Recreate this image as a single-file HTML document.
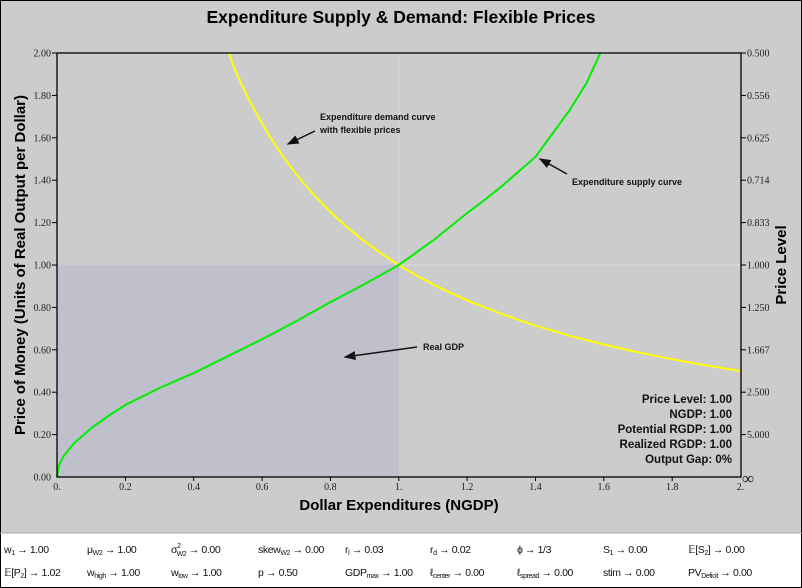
<!DOCTYPE html>
<html><head><meta charset="utf-8"><style>
body{margin:0;width:802px;height:588px;overflow:hidden;background:#fff}
svg{display:block}
.t{font-family:"Liberation Serif",serif;font-size:10px;fill:#222}
.b{font-family:"Liberation Sans",sans-serif;font-weight:bold}
.p{font-family:"Liberation Sans",sans-serif;font-size:10.5px;fill:#111;letter-spacing:-0.4px}
</style></head><body>
<svg width="802" height="588" viewBox="0 0 802 588">
<defs><marker id="ah" markerWidth="8" markerHeight="6" refX="7" refY="3" orient="auto"><path d="M0,0 L8,3 L0,6 Z" fill="#111"/></marker></defs>
<rect x="0" y="0" width="802" height="588" fill="#fff"/>
<rect x="1" y="1" width="800" height="532" fill="#cccccc"/>
<rect x="0.5" y="0.5" width="801" height="587" fill="none" stroke="#000"/>
<line x1="0" y1="533" x2="802" y2="533" stroke="#aaa"/>
<text x="401" y="23" text-anchor="middle" class="b" font-size="17.5">Expenditure Supply &amp; Demand: Flexible Prices</text>
<rect x="57" y="265" width="342" height="212" fill="#c0c0cc"/>
<line x1="399" y1="53" x2="399" y2="265" stroke="#dcdcdc" stroke-width="1"/>
<line x1="399" y1="265" x2="741" y2="265" stroke="#dcdcdc" stroke-width="1"/>
<polyline fill="none" stroke="#ffff00" stroke-width="2" stroke-linejoin="round" points="228.9,53 234.7,69.3 245,91.5 251.8,105.1 262.1,123.7 268.9,135.1 279.1,150.8 286,160.6 296.2,174.1 303.1,182.6 313.3,194.3 330.4,212 347.5,227.6 364.6,241.4 381.7,253.8 398.8,265 415.8,275.1 432.9,284.3 450,292.7 467.1,300.3 501.3,313.9 535.5,325.6 569.6,335.7 603.8,344.5 638,352.3 672.2,359.2 706.3,365.4 740.5,371"/>
<polyline fill="none" stroke="#00ee00" stroke-width="2" stroke-linejoin="round" points="57,477 58.7,466.4 60.4,462.2 63.8,455.8 67.3,451.6 74.1,443.1 91.2,428.2 108.3,416 125.4,404.9 159.5,388 193.7,373.1 227.9,356.2 262.1,339.2 296.2,321.2 330.4,302.1 364.6,284.1 398.8,265 432.9,240.6 467.1,213.1 484.2,200.3 501.3,186.6 518.4,171.7 535.5,156.9 552.5,133.6 569.6,110.2 586.7,82.7 600.4,53"/>
<rect x="57" y="53" width="684" height="424" fill="none" stroke="#000" stroke-width="1.3"/>
<g stroke="#000" stroke-width="1">
<line x1="57" y1="53" x2="52" y2="53"/><line x1="57" y1="95.4" x2="52" y2="95.4"/><line x1="57" y1="137.8" x2="52" y2="137.8"/><line x1="57" y1="180.2" x2="52" y2="180.2"/><line x1="57" y1="222.6" x2="52" y2="222.6"/><line x1="57" y1="265" x2="52" y2="265"/><line x1="57" y1="307.4" x2="52" y2="307.4"/><line x1="57" y1="349.8" x2="52" y2="349.8"/><line x1="57" y1="392.2" x2="52" y2="392.2"/><line x1="57" y1="434.6" x2="52" y2="434.6"/>
<line x1="741" y1="53" x2="746" y2="53"/><line x1="741" y1="95.4" x2="746" y2="95.4"/><line x1="741" y1="137.8" x2="746" y2="137.8"/><line x1="741" y1="180.2" x2="746" y2="180.2"/><line x1="741" y1="222.6" x2="746" y2="222.6"/><line x1="741" y1="265" x2="746" y2="265"/><line x1="741" y1="307.4" x2="746" y2="307.4"/><line x1="741" y1="349.8" x2="746" y2="349.8"/><line x1="741" y1="392.2" x2="746" y2="392.2"/><line x1="741" y1="434.6" x2="746" y2="434.6"/>
<line x1="125.4" y1="477" x2="125.4" y2="481"/><line x1="193.7" y1="477" x2="193.7" y2="481"/><line x1="262.1" y1="477" x2="262.1" y2="481"/><line x1="330.4" y1="477" x2="330.4" y2="481"/><line x1="398.8" y1="477" x2="398.8" y2="481"/><line x1="467.1" y1="477" x2="467.1" y2="481"/><line x1="535.5" y1="477" x2="535.5" y2="481"/><line x1="603.8" y1="477" x2="603.8" y2="481"/><line x1="672.2" y1="477" x2="672.2" y2="481"/>
</g>
<g class="t" text-anchor="end">
<text x="51" y="56.5">2.00</text><text x="51" y="99">1.80</text><text x="51" y="141.3">1.60</text><text x="51" y="183.7">1.40</text><text x="51" y="226.1">1.20</text><text x="51" y="268.5">1.00</text><text x="51" y="310.9">0.80</text><text x="51" y="353.3">0.60</text><text x="51" y="395.7">0.40</text><text x="51" y="438.1">0.20</text><text x="51" y="480.5">0.00</text>
</g>
<g class="t">
<text x="747" y="56.5">0.500</text><text x="747" y="99">0.556</text><text x="747" y="141.3">0.625</text><text x="747" y="183.7">0.714</text><text x="747" y="226.1">0.833</text><text x="747" y="268.5">1.000</text><text x="747" y="310.9">1.250</text><text x="747" y="353.3">1.667</text><text x="747" y="395.7">2.500</text><text x="747" y="438.1">5.000</text>
<text x="742" y="484" font-size="17">∞</text>
</g>
<g class="t" text-anchor="middle">
<text x="57" y="490">0.</text><text x="125.4" y="490">0.2</text><text x="193.7" y="490">0.4</text><text x="262.1" y="490">0.6</text><text x="330.4" y="490">0.8</text><text x="398.8" y="490">1.</text><text x="467.1" y="490">1.2</text><text x="535.5" y="490">1.4</text><text x="603.8" y="490">1.6</text><text x="672.2" y="490">1.8</text><text x="740.5" y="490">2.</text>
</g>
<text x="399" y="510" text-anchor="middle" class="b" font-size="15">Dollar Expenditures (NGDP)</text>
<text transform="translate(25,265) rotate(-90)" text-anchor="middle" class="b" font-size="15">Price of Money (Units of Real Output per Dollar)</text>
<text transform="translate(786,265) rotate(-90)" text-anchor="middle" class="b" font-size="15">Price Level</text>
<g class="b" font-size="9" fill="#111">
<text x="320" y="120">Expenditure demand curve</text><text x="320" y="133">with flexible prices</text>
<text x="572" y="185">Expenditure supply curve</text>
<text x="423" y="350">Real GDP</text>
</g>
<g stroke="#111" stroke-width="1.5" fill="none">
<line x1="315" y1="131" x2="288" y2="144" marker-end="url(#ah)"/>
<line x1="567" y1="174" x2="540" y2="159" marker-end="url(#ah)"/>
<line x1="417" y1="347" x2="345" y2="357" marker-end="url(#ah)"/>
</g>
<g class="b" font-size="11.5" text-anchor="end" fill="#111">
<text x="732" y="403">Price Level: 1.00</text><text x="732" y="418">NGDP: 1.00</text><text x="732" y="433">Potential RGDP: 1.00</text><text x="732" y="448">Realized RGDP: 1.00</text><text x="732" y="463">Output Gap: 0%</text>
</g>
<g class="p">
<text x="4" y="553">w<tspan font-size="7" dy="2">1</tspan><tspan dy="-2"> → 1.00</tspan></text>
<text x="87" y="553">μ<tspan font-size="7" dy="2">W2</tspan><tspan dy="-2"> → 1.00</tspan></text>
<text x="171" y="553">σ<tspan font-size="7" dy="-5">2</tspan><tspan font-size="7" dx="-4" dy="8">W2</tspan><tspan dy="-3"> → 0.00</tspan></text>
<text x="258" y="553">skew<tspan font-size="7" dy="2">W2</tspan><tspan dy="-2"> → 0.00</tspan></text>
<text x="345" y="553">r<tspan font-size="7" dy="2">l</tspan><tspan dy="-2"> → 0.03</tspan></text>
<text x="430" y="553">r<tspan font-size="7" dy="2">d</tspan><tspan dy="-2"> → 0.02</tspan></text>
<text x="517" y="553">ϕ → 1/3</text>
<text x="603" y="553">S<tspan font-size="7" dy="2">1</tspan><tspan dy="-2"> → 0.00</tspan></text>
<text x="688" y="553">𝔼[S<tspan font-size="7" dy="2">2</tspan><tspan dy="-2">] → 0.00</tspan></text>
<text x="4" y="576">𝔼[P<tspan font-size="7" dy="2">2</tspan><tspan dy="-2">] → 1.02</tspan></text>
<text x="87" y="576">w<tspan font-size="7" dy="2">high</tspan><tspan dy="-2"> → 1.00</tspan></text>
<text x="171" y="576">w<tspan font-size="7" dy="2">low</tspan><tspan dy="-2"> → 1.00</tspan></text>
<text x="258" y="576">p → 0.50</text>
<text x="345" y="576">GDP<tspan font-size="7" dy="2">max</tspan><tspan dy="-2"> → 1.00</tspan></text>
<text x="430" y="576">ℓ<tspan font-size="7" dy="2">center</tspan><tspan dy="-2"> → 0.00</tspan></text>
<text x="517" y="576">ℓ<tspan font-size="7" dy="2">spread</tspan><tspan dy="-2"> → 0.00</tspan></text>
<text x="603" y="576">stim → 0.00</text>
<text x="688" y="576">PV<tspan font-size="7" dy="2">Deficit</tspan><tspan dy="-2"> → 0.00</tspan></text>
</g>
</svg>
</body></html>
